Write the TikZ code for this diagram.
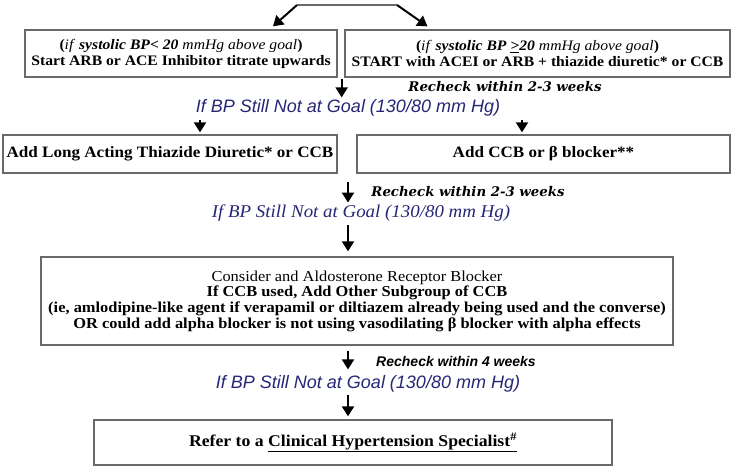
\documentclass[tikz,border=0pt]{standalone}
\usepackage{fontspec}
\setmainfont{Liberation Serif}[FakeStretch=1.08]
\newfontfamily\arialfont{Liberation Sans}
\newfontfamily\goalserif{Liberation Serif}[FakeStretch=1.05]
\newfontfamily\bookfont{DejaVu Serif}
\usetikzlibrary{arrows.meta, positioning}
\definecolor{goalblue}{RGB}{38,38,118}
\definecolor{boxgray}{RGB}{105,105,105}
\tikzset{>={Triangle[length=10pt,width=12pt]}}

\begin{document}
\begin{tikzpicture}[x=1pt, y=-1pt,
    box/.style={draw=boxgray, line width=1.3pt, align=center, inner sep=0pt},
    arr/.style={->, line width=2pt},
    goal/.style={text=goalblue, inner sep=0pt, font=\arialfont\itshape\fontsize{18}{20}\selectfont},
    recheck/.style={inner sep=0pt, font=\bookfont\bfseries\itshape\fontsize{13.3}{15}\selectfont}]
    \useasboundingbox (0,0) rectangle (732,467);
    % first split
    \coordinate (splitL) at (297,5);
    \coordinate (splitR) at (397,5);
    \draw[boxgray, line width=1.2pt] (splitL) -- (splitR);
    \node[box, minimum width=312pt, minimum height=47pt, font=\fontsize{14.5}{16}\selectfont] (low) at (181,53.5)
        {\textbf{(}\textit{if} \textbf{\textit{systolic BP< 20}} \textit{mmHg above goal}\textbf{)}\\
         \textbf{Start ARB or ACE Inhibitor titrate upwards}};
    \node[box, minimum width=385pt, minimum height=47pt, font=\fontsize{14.5}{16}\selectfont] (high) at (537.5,53.5)
        {\textbf{(}\textit{if} \textbf{\textit{systolic BP \underline{>}20}} \textit{mmHg above goal}\textbf{)}\\
         \textbf{START with ACEI or ARB + thiazide diuretic* or CCB}};
    \draw[arr] (splitL) -- ([xshift=92pt,yshift=3pt]low.north);
    \draw[arr] (splitR) -- ([xshift=-110pt,yshift=3pt]high.north);

    \node[recheck] (chk1) at (505,87) {Recheck within 2-3 weeks};
    \node[goal] (goal1) at (348,108) {If BP Still Not at Goal (130/80 mm Hg)};
    \coordinate (drop) at ([xshift=4pt]low.south east);
    \coordinate (spine) at (348,0);
    \draw[arr] ([yshift=-1pt]drop) -- ([yshift=2pt]drop |- goal1.north);

    % second step
    \node[box, minimum width=334pt, minimum height=38pt, font=\bfseries\fontsize{15.8}{18}\selectfont] (add1) at (170,154)
        {Add Long Acting Thiazide Diuretic* or CCB};
    \node[box, minimum width=373pt, minimum height=38pt, font=\bfseries\fontsize{15.8}{18}\selectfont] (add2) at (543.5,154)
        {Add CCB or β blocker**};
    \coordinate (tip1) at ([xshift=30pt]add1.north);
    \coordinate (tip2) at ([xshift=-21.5pt]add2.north);
    \draw[arr] ([yshift=-3pt]tip1 |- goal1.south) -- ([yshift=2pt]tip1);
    \draw[arr] ([yshift=-3pt]tip2 |- goal1.south) -- ([yshift=2pt]tip2);

    \node[recheck] (chk2) at (468,192) {Recheck within 2-3 weeks};
    \node[goal, font=\goalserif\itshape\fontsize{18}{20}\selectfont] (goal2) at (361,213) {If BP Still Not at Goal (130/80 mm Hg)};
    \draw[arr] ([yshift=-8pt]spine |- add1.south) -- ([yshift=2pt]spine |- goal2.north);

    % third step
    \node[box, minimum width=632pt, minimum height=88pt, font=\fontsize{15.2}{15.7}\selectfont] (consider) at (357,301)
        {Consider and Aldosterone Receptor Blocker\\
         \textbf{If CCB used, Add Other Subgroup of CCB}\\
         \textbf{(ie, amlodipine-like agent if verapamil or diltiazem already being used and the converse)}\\
         \textbf{OR could add alpha blocker is not using vasodilating β blocker with alpha effects}};
    \draw[arr] ([yshift=-4pt]spine |- goal2.south) -- ([yshift=5pt]spine |- consider.north);

    \node[recheck, font=\arialfont\bfseries\itshape\fontsize{14}{16}\selectfont] (chk3) at (456,361) {Recheck within 4 weeks};
    \node[goal] (goal3) at (368,384) {If BP Still Not at Goal (130/80 mm Hg)};
    \draw[arr] ([yshift=-5pt]spine |- consider.south) -- ([yshift=6pt]spine |- goal3.north);

    % referral
    \node[box, minimum width=518pt, minimum height=45pt, font=\bfseries\fontsize{16.4}{18}\selectfont] (refer) at (353,442.5)
        {Refer to a \underline{Clinical Hypertension Specialist\textsuperscript{\#}}};
    \draw[arr] ([yshift=-2pt]spine |- goal3.south) -- ([yshift=3pt]spine |- refer.north);
\end{tikzpicture}
\end{document}
